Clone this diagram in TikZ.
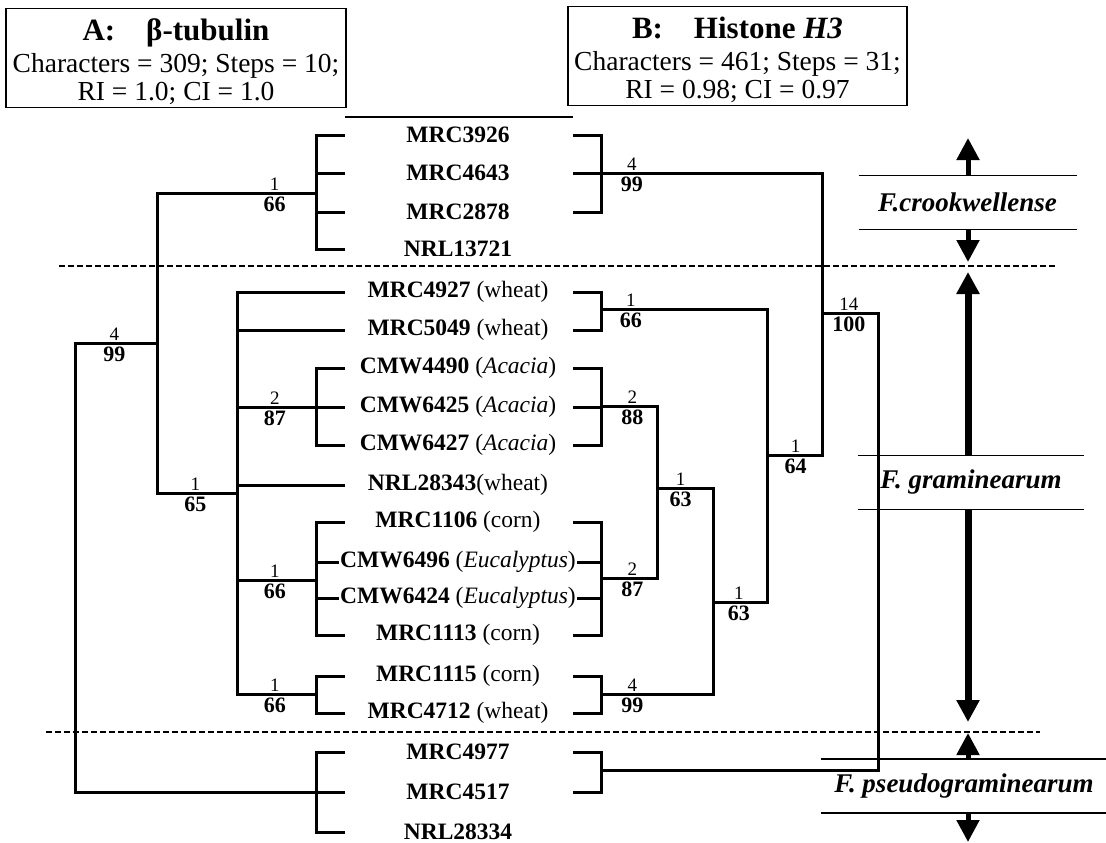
\documentclass[tikz,border=0pt]{standalone}
\usepackage{fontspec}
\setmainfont{Liberation Serif}
\usetikzlibrary{arrows.meta}

\begin{document}
\begin{tikzpicture}[x=1pt,y=-1pt,line width=3pt,
  leaf/.style={inner sep=0pt,font=\fontsize{23.5}{23.5}\selectfont},
  nchg/.style={above,inner sep=1.5pt,font=\fontsize{19}{19}\selectfont},
  nboot/.style={below,inner sep=2pt,font=\fontsize{22}{22}\selectfont\bfseries},
  frame/.style={draw,line width=1.2pt,inner sep=0pt,minimum height=99pt},
  infotext/.style={align=center,inner sep=0pt,font=\fontsize{27.5}{28.5}\selectfont},
  clade/.style={inner sep=0pt,minimum height=51pt,font=\fontsize{27}{27}\selectfont\bfseries\itshape},
  rule/.style={line width=1.4pt},
  divider/.style={line width=1.2pt,dash pattern=on 6pt off 3pt},
  bigarrow/.style={line width=5pt,-{Triangle[width=22pt,length=22pt]}}]
  \useasboundingbox (0,0) rectangle (1106,843);

  % cuadros de datos
  \node[frame,minimum width=340pt] (boxA) at (176,58) {};
  \node[infotext] (txtA) at ([yshift=-4pt]boxA.center)
    {{\fontsize{31}{31}\selectfont\bfseries A:\quad β-tubulin}\\[3pt]
     Characters = 309; Steps = 10;\\ RI = 1.0; CI = 1.0};
  \node[frame,minimum width=339pt] (boxB) at (737.5,56) {};
  \node[infotext] (txtB) at ([yshift=-4pt]boxB.center)
    {{\fontsize{31}{31}\selectfont\bfseries B:\quad Histone \textit{H3}}\\[3pt]
     Characters = 461; Steps = 31;\\ RI = 0.98; CI = 0.97};

  % aislados
  \foreach \n/\y/\t in {
    1/135/{\textbf{MRC3926}},
    2/173/{\textbf{MRC4643}},
    3/212/{\textbf{MRC2878}},
    4/249/{\textbf{NRL13721}},
    5/292/{\textbf{MRC4927} (wheat)},
    6/330/{\textbf{MRC5049} (wheat)},
    7/368/{\textbf{CMW4490} (\textit{Acacia})},
    8/407/{\textbf{CMW6425} (\textit{Acacia})},
    9/445/{\textbf{CMW6427} (\textit{Acacia})},
    10/485/{\textbf{NRL28343}(wheat)},
    11/522/{\textbf{MRC1106} (corn)},
    12/562/{\textbf{CMW6496} (\textit{Eucalyptus})},
    13/598/{\textbf{CMW6424} (\textit{Eucalyptus})},
    14/635/{\textbf{MRC1113} (corn)},
    15/676/{\textbf{MRC1115} (corn)},
    16/713/{\textbf{MRC4712} (wheat)},
    17/752/{\textbf{MRC4977}},
    18/792/{\textbf{MRC4517}},
    19/832/{\textbf{NRL28334}}}{
    \node[leaf] (L\n) at (458,\y) {\t};
    \coordinate (l\n) at (345,\y);
    \coordinate (r\n) at (573,\y);
  }
  \draw[rule] (345,117) -- (573,117);

  % arbol A (beta-tubulina)
  \coordinate (A0) at (75,567);
  \coordinate (A1) at (316,193);
  \coordinate (A2) at (157,343);
  \coordinate (A3) at (237,493);
  \coordinate (A4) at (316,407);
  \coordinate (A5) at (316,580);
  \coordinate (A6) at (316,694);
  \coordinate (A7) at (316,792);
  \draw (A0) |- node[pos=.74,nchg]{4} node[pos=.74,nboot]{99} (A2);
  \draw (A0) |- (A7);
  \draw (A2) |- node[pos=.87,nchg]{1} node[pos=.87,nboot]{66} (A1);
  \draw (A2) |- node[pos=.74,nchg]{1} node[pos=.74,nboot]{65} (A3);
  \draw (A3) |- node[pos=.74,nchg]{2} node[pos=.74,nboot]{87} (A4);
  \draw (A3) |- node[pos=.74,nchg]{1} node[pos=.74,nboot]{66} (A5);
  \draw (A3) |- node[pos=.74,nchg]{1} node[pos=.74,nboot]{66} (A6);
  \foreach \a/\b in {A1/l1,A1/l2,A1/l3,A1/l4,A3/l5,A3/l6,A4/l7,A4/l8,A4/l9,
    A3/l10,A5/l11,A5/L12.west,A5/L13.west,A5/l14,A6/l15,A6/l16,A7/l17,A7/l18,A7/l19}
    \draw (\a) |- (\b);

  % arbol B (histona H3)
  \coordinate (B0) at (878,540);
  \coordinate (B1) at (601,173);
  \coordinate (B2) at (822,313);
  \coordinate (B3) at (767,455);
  \coordinate (B4) at (601,309);
  \coordinate (B5) at (713,602);
  \coordinate (B6) at (657,488);
  \coordinate (B7) at (601,770);
  \coordinate (B8) at (601,406);
  \coordinate (B9) at (601,694);
  \coordinate (B10) at (601,578);
  \draw (B0) |- node[pos=.76,nchg]{14} node[pos=.76,nboot]{100} (B2);
  \draw (B0) |- (B7);
  \draw (B2) |- node[pos=.93,nchg]{4} node[pos=.93,nboot]{99} (B1);
  \draw (B2) |- node[pos=.74,nchg]{1} node[pos=.74,nboot]{64} (B3);
  \draw (B3) |- node[pos=.91,nchg]{1} node[pos=.91,nboot]{66} (B4);
  \draw (B3) |- node[pos=.76,nchg]{1} node[pos=.76,nboot]{63} (B5);
  \draw (B5) |- node[pos=.79,nchg]{1} node[pos=.79,nboot]{63} (B6);
  \draw (B5) |- node[pos=.86,nchg]{4} node[pos=.86,nboot]{99} (B9);
  \draw (B6) |- node[pos=.72,nchg]{2} node[pos=.72,nboot]{88} (B8);
  \draw (B6) |- node[pos=.72,nchg]{2} node[pos=.72,nboot]{87} (B10);
  \foreach \a/\b in {B1/r1,B1/r2,B1/r3,B4/r5,B4/r6,B8/r7,B8/r8,B8/r9,
    B10/r11,B10/L12.east,B10/L13.east,B10/r14,B9/r15,B9/r16,B7/r17,B7/r18}
    \draw (\a) |- (\b);

  % separaciones entre especies
  \draw[divider] (59,266) -- (1057,266);
  \draw[divider] (46,732) -- (1040,732);

  % especies
  \node[clade,minimum width=215pt] (crk) at (967.5,202.5) {F.crookwellense};
  \node[clade,minimum width=223pt] (gra) at (971,482.5) {F. graminearum};
  \node[clade,minimum width=284pt] (pse) at (964,786) {F. pseudograminearum};
  \foreach \c in {crk,gra,pse}
    \draw[rule] (\c.north west) -- (\c.north east) (\c.south west) -- (\c.south east);
  \coordinate (crkU) at (968,138);
  \coordinate (crkD) at (968,262);
  \coordinate (graU) at (968,272);
  \coordinate (graD) at (968,722);
  \coordinate (pseU) at (968,733);
  \coordinate (pseD) at (968,842);
  \draw[bigarrow] (crk.north -| crkU) -- (crkU);
  \draw[bigarrow] (crk.south -| crkD) -- (crkD);
  \draw[bigarrow,line width=7pt] (gra.north -| graU) -- (graU);
  \draw[bigarrow,line width=7pt] (gra.south -| graD) -- (graD);
  \draw[bigarrow] (pse.north -| pseU) -- (pseU);
  \draw[bigarrow] (pse.south -| pseD) -- (pseD);
\end{tikzpicture}
\end{document}
